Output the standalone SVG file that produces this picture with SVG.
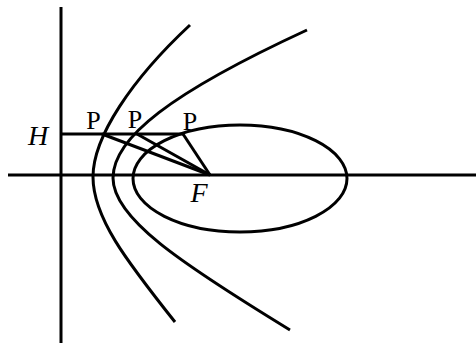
<svg xmlns="http://www.w3.org/2000/svg" width="476" height="345" viewBox="0 0 476 345">
<style>
.ln{fill:none;stroke:#000;stroke-width:3;stroke-linecap:butt}
.it{font-family:"Liberation Serif","Times New Roman",serif;font-style:italic;font-size:28px;fill:#000}
.rm{font-family:"Liberation Serif","Times New Roman",serif;font-size:26px;fill:#000}
</style>
<rect width="476" height="345" fill="#fff"/>
<g id="axes">
<line class="ln" x1="61" y1="7" x2="61" y2="343" stroke-width="3.3"/>
<line class="ln" x1="8" y1="175" x2="476" y2="175" stroke-width="3.3"/>
</g>
<g id="hyperbola">
<path class="ln" d="M190,25 C131.6,79.4 93,137 93,177 C93,217 125.4,259.6 175,322"/>
</g>
<g id="parabola">
<path class="ln" d="M307,30 C170.5,93 113,138 113,178 C113,218 179.5,262.4 290,330"/>
</g>
<g id="ellipse">
<ellipse class="ln" cx="240" cy="178.5" rx="107" ry="53.5"/>
</g>
<g id="connectors">
<line class="ln" x1="61" y1="134" x2="183" y2="134"/>
<line class="ln" x1="102" y1="134" x2="210" y2="175"/>
<line class="ln" x1="137" y1="134" x2="210" y2="175"/>
<line class="ln" x1="183" y1="134" x2="210" y2="175"/>
</g>
<g id="labels">
<text class="it" x="38" y="145" text-anchor="middle">H</text>
<text class="it" x="199" y="202" text-anchor="middle">F</text>
<text class="rm" x="93.5" y="128.5" text-anchor="middle">P</text>
<text class="rm" x="135" y="127.5" text-anchor="middle">P</text>
<text class="rm" x="190" y="129.5" text-anchor="middle">P</text>
</g>
</svg>
